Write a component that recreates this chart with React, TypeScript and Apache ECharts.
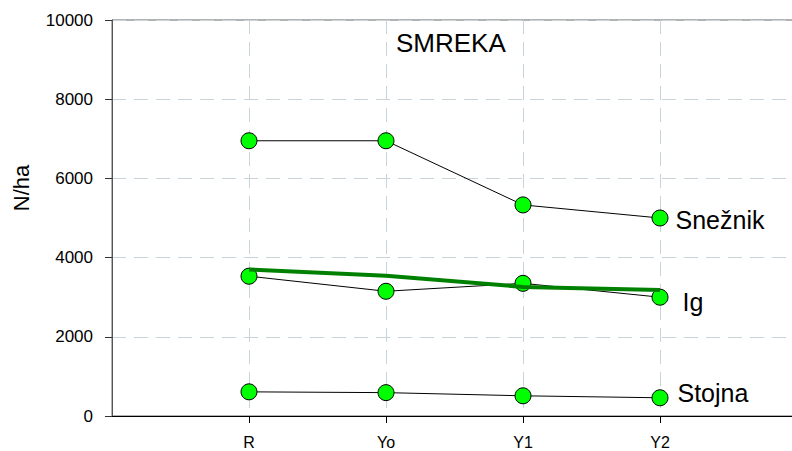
import React, { useEffect, useRef } from "react";
import * as echarts from "echarts";

const categories = ["R", "Yo", "Y1", "Y2"];
const axisSlots = ["", "R", "Yo", "Y1", "Y2", ""];
const sneznik = [6950, 6950, 5330, 5000];
const ig = [3530, 3150, 3350, 3000];
const stojna = [610, 590, 510, 460];
const trend = [3700, 3540, 3260, 3180];
const yTicks = { min: 0, max: 10000, interval: 2000 };

const FONT = "Liberation Sans, Arial, sans-serif";

function pointSeries(name: string, values: number[], distance: number, offset: number[]) {
  return {
    name,
    type: "line",
    data: values.map((v, i) =>
      i === values.length - 1
        ? {
            value: [categories[i], v],
            label: {
              show: true,
              position: "right",
              distance,
              offset,
              formatter: "{a}",
              fontSize: 25,
              fontFamily: FONT,
              color: "#000",
            },
          }
        : [categories[i], v]
    ),
    symbol: "circle",
    symbolSize: 16,
    itemStyle: { color: "#00ff00", borderColor: "#000", borderWidth: 1 },
    lineStyle: { color: "#000", width: 1 },
    z: 3,
  };
}

export default function App() {
  const ref = useRef<HTMLDivElement>(null);
  useEffect(() => {
    if (!ref.current) return;
    const chart = echarts.init(ref.current, undefined, { renderer: "svg" });
    chart.setOption({
      animation: false,
      backgroundColor: "#fff",
      title: {
        text: "SMREKA",
        left: 396,
        top: 30,
        padding: 0,
        textStyle: { fontSize: 26, fontWeight: "normal", color: "#000", fontFamily: FONT },
      },
      graphic: [
        {
          type: "text",
          x: 21,
          y: 188,
          rotation: Math.PI / 2,
          style: {
            text: "N/ha",
            fontSize: 22,
            fontFamily: FONT,
            fill: "#000",
            textAlign: "center",
            textVerticalAlign: "middle",
          },
        },
      ],
      grid: {
        left: 112,
        top: 20,
        bottom: 35,
        right: 3,
        outerBoundsMode: "none",
        containLabel: false,
        show: true,
        borderColor: "#666",
        borderWidth: 1,
        backgroundColor: "transparent",
      },
      xAxis: {
        type: "category",
        data: axisSlots,
        boundaryGap: false,
        axisLine: { show: true, lineStyle: { color: "#000", width: 1 } },
        axisTick: {
          show: true,
          length: 7,
          interval: (i: number) => i >= 1 && i <= 4,
          lineStyle: { color: "#000" },
        },
        axisLabel: {
          show: true,
          interval: 0,
          margin: 18,
          fontSize: 16,
          fontFamily: FONT,
          color: "#000",
        },
        splitLine: {
          show: true,
          interval: (i: number) => i >= 1 && i <= 4,
          lineStyle: { color: "#c8d4da", type: [14, 8], width: 1 },
        },
      },
      yAxis: {
        type: "value",
        min: yTicks.min,
        max: yTicks.max,
        interval: yTicks.interval,
        axisLine: { show: true, lineStyle: { color: "#555", width: 1 } },
        axisTick: { show: true, length: 7, lineStyle: { color: "#333" } },
        axisLabel: {
          margin: 19,
          fontSize: 17,
          fontFamily: FONT,
          color: "#000",
          formatter: (v: number) => String(v),
        },
        splitLine: {
          show: true,
          lineStyle: { color: "#c8d4da", type: [14, 8], width: 1 },
        },
      },
      series: [
        pointSeries("Snežnik", sneznik, 7, [0, 2]),
        pointSeries("Ig", ig, 14, [0, 5]),
        pointSeries("Stojna", stojna, 9, [0, -5]),
        {
          name: "trend",
          type: "line",
          data: trend.map((v, i) => [categories[i], v]),
          symbol: "none",
          lineStyle: { color: "#008000", width: 4 },
          z: 5,
        },
      ],
    });
    return () => chart.dispose();
  }, []);
  return (
    <div
      style={{
        position: "fixed",
        left: 0,
        top: 0,
        width: 792,
        height: 451,
        overflow: "hidden",
      }}
    >
      <div ref={ref} style={{ width: 800, height: 451 }} />
    </div>
  );
}
